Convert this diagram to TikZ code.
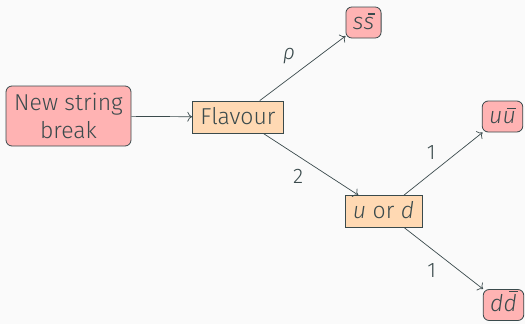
\documentclass[tikz,border=0pt]{standalone}
\usepackage{fontspec}
\setmainfont{Fira Sans}[UprightFont=* Light, ItalicFont=* Light Italic]
\usetikzlibrary{arrows.meta}
\definecolor{bgcol}{HTML}{FAFAFA}
\definecolor{ink}{HTML}{3A4A4C}
\definecolor{edgecol}{HTML}{3A4A4C}
\definecolor{pinkfill}{HTML}{FFB3B3}
\definecolor{peachfill}{HTML}{FFD9B3}
% barred (anti)quark symbol: a slanted-offset rule drawn above the letter
\newcommand\qbar[1]{%
  \setbox0\hbox{#1}%
  \dimen0=\ht0 \advance\dimen0 by 2.2pt
  \rlap{\kern0.17\wd0\kern0.17\dimen0\raise\dimen0\hbox{\vrule width0.66\wd0 height1.1pt depth0pt}}%
  \box0}
\tikzset{
  every node/.style={text=ink, font=\fontsize{23}{28}\selectfont},
  endbox/.style={draw=edgecol, fill=pinkfill, rounded corners=6pt, line width=0.8pt,
    inner xsep=7pt, inner ysep=4pt, text height=18pt, text depth=5pt},
  midbox/.style={draw=edgecol, fill=peachfill, line width=0.8pt,
    inner xsep=8pt, inner ysep=4pt, text height=19pt, text depth=5pt},
  link/.style={-{To[scale=1.5]}, draw=edgecol, line width=0.7pt},
  lbl/.style={font=\fontsize{21}{24}\selectfont, xshift=-3pt}
}
\begin{document}
\begin{tikzpicture}[x=1pt, y=-1pt]
  \fill[bgcol] (0,0) rectangle (525,324);
  \useasboundingbox (0,0) rectangle (525,324);

  \node[endbox, align=center, minimum width=125pt, minimum height=60pt, text height=, text depth=] (brk) at (68.5,116) {New string\\break};
  \node[midbox] (flav) at (238,117) {Flavour};
  \node[endbox] (ss) at (363.5,22.5) {\textit{s\qbar{s}}};
  \node[midbox] (ud) at (383.5,211.5) {\textit{u} or \textit{d}};
  \node[endbox] (uu) at (502.5,116.5) {\textit{u\qbar{u}}};
  \node[endbox] (dd) at (503.5,305) {\textit{d\qbar{d}}};

  \draw[link] (brk) -- (flav);
  \draw[link] (flav) -- node[lbl, above left=1pt] {\textit{ρ}} (ss);
  \draw[link] (flav) -- node[lbl, below left=1pt] {2} (ud);
  \draw[link] (ud) -- node[lbl, above left=1pt] {1} (uu);
  \draw[link] (ud) -- node[lbl, below left=1pt] {1} (dd);
\end{tikzpicture}
\end{document}
